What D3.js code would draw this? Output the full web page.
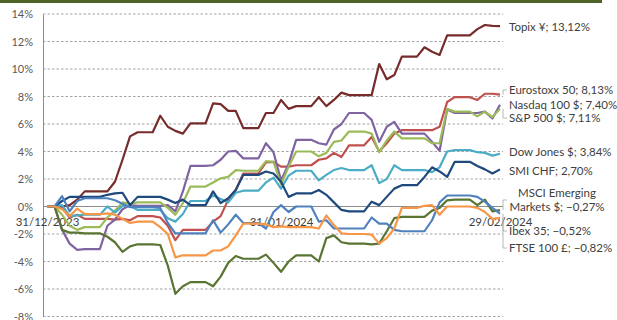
<!DOCTYPE html>
<html>
<head>
<meta charset="utf-8">
<script src="https://cdn.jsdelivr.net/npm/d3@7"></script>
<style>
  body { margin: 0; background: #fff; }
  svg text { font-family: Lato, "Liberation Sans", sans-serif; }
</style>
</head>
<body>
<svg width="617" height="320"></svg>
<script>
const svg = d3.select("svg");

// categories: every calendar day, 31/12/2023 .. 29/02/2024 (weekends carry the last close)
const startDay = new Date(2023, 11, 31);
const endDay = new Date(2024, 1, 29);
const days = d3.timeDay.range(startDay, d3.timeDay.offset(endDay, 1));

const xTickDates = [new Date(2023, 11, 31), new Date(2024, 0, 31), new Date(2024, 1, 29)];
const yTicks = [14, 12, 10, 8, 6, 4, 2, 0, -2, -4, -6, -8];

const seriesNames = ["Topix ¥", "Eurostoxx 50", "Nasdaq 100 $", "S&P 500 $", "Dow Jones $",
  "SMI CHF", "MSCI Emerging\nMarkets $", "Ibex 35", "FTSE 100 £"];

// performance since 31/12/2023, in %
const topix = [0, 0, 0, 0.1, 0.5, 1.1, 1.1, 1.1, 1.1, 1.8, 3.4, 5.1, 5.4, 5.4, 5.4, 6.6, 5.8, 5.5, 5.3, 6.05,
  6.05, 6.05, 7.5, 7.45, 6.95, 6.95, 5.7, 5.7, 5.7, 6.8, 6.8, 7.75, 7.1, 7.3, 7.3, 7.3, 7.95, 7.3, 7.75, 8.28,
  8.1, 8.1, 8.1, 8.1, 10.36, 9.25, 9.56, 10.9, 10.9, 10.9, 11.58, 11.26, 11.02, 12.45, 12.45, 12.45, 12.45, 12.9, 13.2, 13.13,
  13.12];
const eurostoxx = [0, 0, -0.1, -0.8, -0.6, -0.9, -0.9, -0.9, -0.9, -0.95, -0.9, -1.0, -0.7, -0.7, -0.7, -0.8, -1.4, -2.45, -1.7, -1.7,
  -1.7, -1.7, -1.1, -0.7, 0.5, 1.2, 2.4, 2.4, 2.4, 3.2, 3.25, 2.9, 2.9, 3.0, 3.0, 3.0, 3.4, 3.5, 3.9, 3.6,
  4.45, 4.45, 4.45, 5.05, 4.0, 4.6, 5.3, 5.55, 5.55, 5.55, 5.55, 5.55, 5.8, 7.6, 7.95, 7.95, 7.95, 7.75, 8.2, 8.2,
  8.13];
const nasdaq = [0, 0, -1.7, -2.7, -3.15, -3.1, -3.1, -3.1, -1.4, -0.95, -0.2, 0.1, 0.05, 0.05, 0.05, 0.05, 0.1, -0.35, 1.1, 2.95,
  2.95, 2.95, 3.0, 3.4, 4.0, 4.05, 3.5, 3.5, 3.5, 4.6, 3.95, 1.9, 3.1, 4.85, 4.85, 4.85, 4.6, 4.5, 5.6, 6.0,
  6.8, 6.8, 6.8, 6.3, 4.7, 5.8, 6.15, 5.3, 5.3, 5.3, 5.3, 4.7, 4.05, 7.05, 6.8, 6.8, 6.8, 6.8, 6.9, 6.4,
  7.40];
const sp500 = [0, 0, -0.6, -1.4, -1.7, -1.5, -1.5, -1.5, -0.8, -0.3, 0.3, 0.2, 0.3, 0.3, 0.3, 0.3, -0.1, -0.6, 0.25, 1.45,
  1.45, 1.45, 1.75, 2.05, 2.15, 2.65, 2.6, 2.6, 2.6, 3.3, 3.25, 1.6, 2.9, 4.0, 4.0, 4.0, 3.65, 3.9, 4.7, 4.8,
  5.45, 5.45, 5.45, 5.3, 3.95, 4.8, 5.45, 4.95, 4.95, 4.95, 4.95, 4.6, 4.6, 7.1, 6.9, 6.9, 6.9, 6.55, 6.9, 6.5,
  7.11];
const dowJones = [0, 0, 0.1, -0.7, -0.65, -0.6, -0.6, -0.6, 0.0, -0.45, 0.05, 0.05, -0.25, -0.25, -0.25, -0.25, -0.85, -1.1, -0.55, 0.4,
  0.4, 0.4, 0.8, 0.55, 0.3, 1.0, 1.15, 1.15, 1.15, 1.75, 2.1, 1.3, 2.25, 2.6, 2.6, 2.6, 1.9, 2.3, 2.65, 2.8,
  2.65, 2.65, 2.65, 3.0, 1.7, 2.0, 3.0, 2.65, 2.65, 2.65, 2.65, 2.5, 2.85, 4.0, 4.1, 4.1, 4.1, 3.95, 3.9, 3.7,
  3.84];
const smi = [0, 0, 0.4, 0.7, 0.7, 0.7, 0.7, 0.7, 0.85, 0.95, 1.0, 0.1, 0.7, 0.7, 0.7, 0.7, 0.5, 0.25, 0.5, 0.1,
  0.1, 0.1, 1.1, 0.25, 0.6, 1.2, 2.3, 2.3, 2.3, 2.55, 2.4, 1.8, 0.7, 0.95, 0.95, 0.95, 1.2, 0.85, 0.3, -0.25,
  -0.35, -0.35, -0.35, 0.35, 0.1, 0.7, 1.3, 1.55, 1.55, 1.55, 2.15, 2.85, 2.55, 2.15, 3.25, 3.25, 3.25, 2.95, 2.7, 2.4,
  2.70];
const msciEm = [0, 0, -1.7, -1.9, -1.9, -1.95, -1.95, -1.95, -2.2, -2.6, -3.3, -2.9, -2.75, -2.75, -2.75, -2.8, -4.3, -6.35, -5.8, -5.5,
  -5.5, -5.5, -5.8, -5.1, -4.1, -3.6, -3.8, -3.8, -3.8, -3.5, -4.1, -4.75, -4.0, -3.55, -3.55, -3.55, -4.0, -2.3, -2.1, -2.6,
  -2.7, -2.7, -2.7, -2.75, -2.7, -1.8, -0.85, -0.75, -0.75, -0.75, -0.75, -0.3, -0.1, 0.45, 0.5, 0.5, 0.5, 0.1, 0.5, -0.35,
  -0.27];
const ibex = [0, 0, 0.75, -0.35, 0.4, 0.6, 0.6, 0.6, 0.6, 0.45, 0.2, -0.05, -0.05, -0.05, -0.05, -0.1, -1.2, -1.95, -1.95, -1.95,
  -1.95, -1.95, -1.0, -1.9, -1.3, -0.6, -1.2, -1.2, -1.2, -1.6, -0.4, 0.1, -0.4, 0.0, 0.0, 0.0, -1.1, -1.0, -1.6, -1.6,
  -1.6, -1.6, -1.6, -0.8, -1.25, -1.25, -1.7, -1.8, -1.8, -1.8, -1.8, -1.0, 0.3, 0.8, 0.8, 0.8, 0.8, 0.7, 0.35, -0.1,
  -0.52];
const ftse = [0, 0, -0.2, -0.7, -0.15, -0.55, -0.55, -0.55, -0.5, -0.6, -0.9, -1.2, -1.1, -1.1, -1.1, -1.5, -2.0, -3.7, -3.55, -3.55,
  -3.55, -3.55, -3.2, -3.2, -2.9, -2.1, -1.25, -1.25, -1.25, -1.3, -1.5, -1.45, -1.5, -1.5, -1.5, -1.5, -1.6, -0.65, -1.35, -1.95,
  -2.0, -2.0, -2.0, -2.05, -2.7, -2.3, -1.6, -0.1, -0.1, -0.1, 0.05, 0.1, -0.6, 0.0, 0.0, 0.0, 0.0, -0.1, -0.4, -0.9,
  -0.82];

const seriesValues = [topix, eurostoxx, nasdaq, sp500, dowJones, smi, msciEm, ibex, ftse];
const colors = ["#772b2b", "#c0504d", "#8064a2", "#9bbb59", "#4bacc6", "#1f497d", "#5a7431", "#4f81bd", "#f79646"];

// label centres (px) on the right
const labelY = [27, 90, 105, 118, 152, 171, 200, 231, 248];

const x = d3.scaleTime().domain([startDay, endDay]).range([47, 500]);
const y = d3.scaleLinear().domain([-8, 14]).range([316.5, 14]);

// top band
svg.append("rect")
  .attr("x", 0).attr("y", 0).attr("width", 602).attr("height", 3)
  .attr("fill", "#4f6228");

// gridlines
svg.append("g")
  .selectAll("line")
  .data(yTicks.filter(d => d !== 0))
  .join("line")
    .attr("x1", 43).attr("x2", 503)
    .attr("y1", d => y(d)).attr("y2", d => y(d))
    .attr("stroke", "#8c8c8c")
    .attr("stroke-width", 0.8)
    .attr("stroke-dasharray", "2.5,2");

svg.append("line")
  .attr("x1", 43).attr("x2", 503)
  .attr("y1", y(0)).attr("y2", y(0))
  .attr("stroke", "#8c8c8c")
  .attr("stroke-width", 1);

// y axis
const yAxisG = svg.append("g")
  .attr("transform", "translate(43,0)")
  .call(d3.axisLeft(y).tickValues(yTicks).tickFormat(d => d + "%").tickSize(0).tickPadding(10));
yAxisG.select(".domain").attr("stroke", "#8c8c8c");
yAxisG.selectAll("text")
  .attr("fill", "#595959")
  .style("font-size", "11px");

// x axis labels (sit on the 0% line)
const xAxisG = svg.append("g")
  .attr("transform", `translate(0,${y(0)})`)
  .call(d3.axisBottom(x).tickValues(xTickDates).tickFormat(d3.timeFormat("%d/%m/%Y")).tickSize(0).tickPadding(11));
xAxisG.select(".domain").remove();
xAxisG.selectAll("text")
  .attr("fill", "#404040")
  .style("font-size", "11.5px");

// lines
const line = d3.line()
  .x((d, i) => x(days[i]))
  .y(d => y(d));

svg.append("g")
  .selectAll("path")
  .data(seriesValues)
  .join("path")
    .attr("d", line)
    .attr("fill", "none")
    .attr("stroke", (d, i) => colors[i])
    .attr("stroke-width", 2.2)
    .attr("stroke-linejoin", "round");

// end labels
const fmt = d3.formatLocale({ decimal: ",", thousands: ".", grouping: [3], currency: ["", ""] }).format(".2f");

const leaders = svg.append("g");
const labels = svg.append("g").style("font-size", "11.5px").attr("fill", "#404040");

seriesValues.forEach((vals, i) => {
  const last = vals[vals.length - 1];
  const endY = y(last);
  const lines = (seriesNames[i] + "; " + fmt(last) + "%").split("\n");
  const ly = labelY[i];

  if (Math.abs(ly - endY) > 4) {
    leaders.append("path")
      .attr("d", `M503,${endY}V${ly}H507`)
      .attr("fill", "none")
      .attr("stroke", "#a6a6a6")
      .attr("stroke-width", 0.8);
  }

  const t = labels.append("text")
    .attr("text-anchor", lines.length > 1 ? "middle" : "start")
    .attr("x", lines.length > 1 ? 557 : 509)
    .attr("y", ly - (lines.length - 1) * 7);
  lines.forEach((s, k) => {
    t.append("tspan")
      .attr("x", lines.length > 1 ? 557 : 509)
      .attr("dy", k === 0 ? "0.35em" : "1.2em")
      .text(s);
  });
});
</script>
</body>
</html>
